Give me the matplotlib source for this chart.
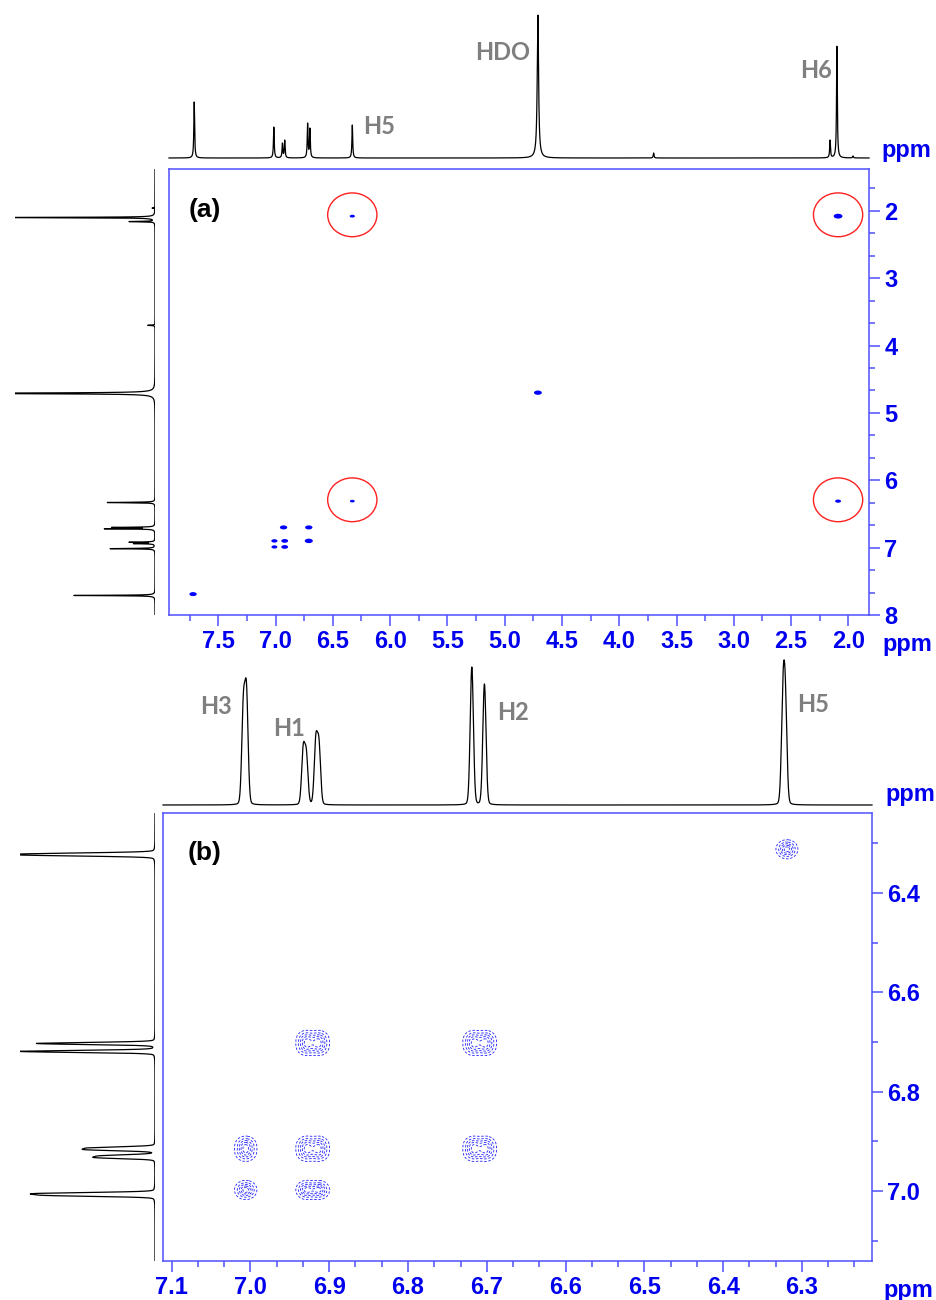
import numpy as np
import matplotlib
matplotlib.use('Agg')
import matplotlib.pyplot as plt
from matplotlib.patches import Ellipse
from matplotlib.ticker import MultipleLocator, FormatStrFormatter

plt.rcParams['font.family'] = ['Liberation Sans Narrow', 'Liberation Sans', 'DejaVu Sans']
plt.rcParams['font.weight'] = 'bold'
plt.rcParams['lines.dashed_pattern'] = [3.0, 2.0]

BLUE = '#0000ee'
BOX = '#5050ff'
GREY = '#7f7f7f'

# ---------------- (a) full 1H spectrum, peaks ----------------
# apparent peak heights (HDO = 143)
a_shift = [7.71, 7.015, 6.94, 6.92, 6.72, 6.70, 6.33, 4.71, 3.70, 2.16, 2.10, 1.96]
a_height = [56, 31, 15, 18, 35, 30, 33, 143, 5, 18, 112, 2]
a_hwhm = [0.004, 0.004, 0.004, 0.004, 0.004, 0.004, 0.004, 0.007, 0.004, 0.004, 0.004, 0.004]

# (a) cross peaks: F2 (x), F1 (y), relative size
a_cross_x = [6.33, 2.09, 4.71, 6.33, 2.09, 6.93, 6.71, 7.01, 6.92, 6.71, 7.01, 6.92, 7.72]
a_cross_y = [2.08, 2.08, 4.70, 6.31, 6.31, 6.70, 6.70, 6.90, 6.90, 6.90, 6.99, 6.99, 7.69]
a_cross_int = [0.35, 1.0, 0.8, 0.3, 0.45, 0.7, 0.7, 0.5, 0.6, 0.85, 0.45, 0.6, 0.7]
a_circled = [0, 1, 3, 4]

# ---------------- (b) aromatic region ----------------
b_shift = [7.009, 7.005, 6.933, 6.929, 6.917, 6.913, 6.719, 6.703, 6.324, 6.321]
b_height = [112, 122, 61, 56, 71, 67, 138, 121, 130, 127]

# multiplets in the 2D map
mult_names = ['H3', 'H1', 'H2', 'H5']
mult_f2 = [7.006, 6.921, 6.709, 6.319]
mult_f1 = [6.998, 6.915, 6.702, 6.312]
mult_split = [0.004, 0.016, 0.016, 0.003]
b_cross = [('H5', 'H5'), ('H1', 'H2'), ('H2', 'H2'), ('H3', 'H1'),
           ('H1', 'H1'), ('H2', 'H1'), ('H3', 'H3'), ('H1', 'H3')]


def lorentz(d, w):
    return 1.0 / (1.0 + (d / w) ** 2)


def voigt(d, w, eta=0.1):
    return eta * lorentz(d, w) + (1 - eta) * np.exp(-np.log(2) * (d / w) ** 2)


def spectrum(grid, shift, height, hwhm, shape):
    # solve for component amplitudes so the summed trace hits the read heights
    s = np.array(shift)
    w = np.array(hwhm)
    A = shape(s[:, None] - s[None, :], w[None, :])
    amp = np.linalg.solve(A, np.array(height, float))
    return sum(a * shape(grid - c, wi) for a, c, wi in zip(amp, s, w))


def add_ax(l, t, r, b):
    return fig.add_axes([l / 936, 1 - b / 1300, (r - l) / 936, (b - t) / 1300])


def style_box(ax):
    for sp in ax.spines.values():
        sp.set_color(BOX)
        sp.set_linewidth(1.1)
    ax.yaxis.tick_right()
    ax.tick_params(which='both', direction='out', color=BOX, labelcolor=BLUE,
                   labelsize=17, width=1.1)
    ax.tick_params(which='major', length=8, pad=3)
    ax.tick_params(which='minor', length=4)
    ax.tick_params(axis='x', which='both', top=False)
    ax.tick_params(axis='y', which='both', left=False)


fig = plt.figure(figsize=(9.36, 13), dpi=100)

# ---- panel (a) ----
ax_a = add_ax(169, 169, 869, 615)
a_xlim = (7.93, 1.82)
a_ylim = (8.0, 1.38)
ax_a.set_xlim(a_xlim)
ax_a.set_ylim(a_ylim)
style_box(ax_a)
ax_a.xaxis.set_major_locator(MultipleLocator(0.5))
ax_a.xaxis.set_minor_locator(MultipleLocator(0.25))
ax_a.xaxis.set_major_formatter(FormatStrFormatter('%.1f'))
ax_a.yaxis.set_major_locator(MultipleLocator(1))
ax_a.yaxis.set_minor_locator(MultipleLocator(1 / 3))
ax_a.yaxis.set_major_formatter(FormatStrFormatter('%d'))

# elliptical dots for the cross peaks
t = np.linspace(0, 2 * np.pi, 40)
dot = np.column_stack([np.cos(t), 0.55 * np.sin(t)])
ax_a.scatter(a_cross_x, a_cross_y, s=np.array(a_cross_int) * 40, marker=dot,
             color='#0000ff', linewidths=0, zorder=3)
for i in a_circled:
    ax_a.add_patch(Ellipse((a_cross_x[i], a_cross_y[i] - 0.02), 0.43, 0.65,
                           fill=False, edgecolor='#ff2020', lw=1.0))
ax_a.text(0.051, 0.908, '(a)', transform=ax_a.transAxes, fontsize=19,
          ha='center', va='center', family=['Liberation Sans', 'DejaVu Sans'])

grid_a = np.linspace(a_xlim[0], a_xlim[1], 14000)
spec_a = spectrum(grid_a, a_shift, a_height, a_hwhm, lorentz)

top_a = add_ax(169, 15, 869, 158)
top_a.plot(grid_a, spec_a, color='black', lw=0.9, clip_on=False)
top_a.set_xlim(a_xlim)
top_a.set_ylim(0, 143)
top_a.axis('off')
for lab, x, y in [('HDO', 5.02, 106), ('H5', 6.10, 31), ('H6', 2.28, 88)]:
    top_a.text(x, y, lab, color=GREY, fontsize=17, ha='center', va='center',
               family=['Lato', 'DejaVu Sans'])

left_a = add_ax(15, 169, 155, 615)
grid_al = np.linspace(a_ylim[1], a_ylim[0], 14000)
left_a.plot(spectrum(grid_al, a_shift, a_height, a_hwhm, lorentz) * 1.45, grid_al,
            color='black', lw=0.9)
left_a.set_xlim(140, 0)
left_a.set_ylim(a_ylim)
left_a.axis('off')

fig.text(906 / 936, 1 - 150 / 1300, 'ppm', color=BLUE, fontsize=17, ha='center', va='center')
fig.text(907 / 936, 1 - 645 / 1300, 'ppm', color=BLUE, fontsize=17, ha='center', va='center')

# ---- panel (b) ----
ax_b = add_ax(163, 813, 872, 1261)
b_xlim = (7.111, 6.211)
b_ylim = (7.141, 6.239)
ax_b.set_xlim(b_xlim)
ax_b.set_ylim(b_ylim)
style_box(ax_b)
ax_b.xaxis.set_major_locator(MultipleLocator(0.1))
ax_b.xaxis.set_minor_locator(MultipleLocator(0.1 / 3))
ax_b.xaxis.set_major_formatter(FormatStrFormatter('%.1f'))
ax_b.yaxis.set_major_locator(MultipleLocator(0.2))
ax_b.yaxis.set_minor_locator(MultipleLocator(0.1))
ax_b.yaxis.set_major_formatter(FormatStrFormatter('%.1f'))

gx = np.linspace(b_xlim[1], b_xlim[0], 1400)
gy = np.linspace(b_ylim[1], b_ylim[0], 1000)
X, Y = np.meshgrid(gx, gy)
sx, sy = 0.0066, 0.0092
Z = np.zeros_like(X)
for f2_name, f1_name in b_cross:
    i = mult_names.index(f2_name)
    j = mult_names.index(f1_name)
    field = np.zeros_like(X)
    for dx in (-0.5, 0.5):
        for dy in (-0.5, 0.5):
            cx = mult_f2[i] + dx * mult_split[i]
            cy = mult_f1[j] + dy * mult_split[j]
            field += np.exp(-((X - cx) ** 2 / (2 * sx ** 2) + (Y - cy) ** 2 / (2 * sy ** 2)))
    Z += field / field.max()
ax_b.contour(X, Y, Z, levels=[0.12, 0.3, 0.5, 0.7, 0.88],
             colors='#2020ff', linewidths=0.6, linestyles='dashed')
ax_b.text(0.058, 0.911, '(b)', transform=ax_b.transAxes, fontsize=19,
          ha='center', va='center', family=['Liberation Sans', 'DejaVu Sans'])

b_hwhm = [0.0024] * len(b_shift)
grid_b = np.linspace(b_xlim[0], b_xlim[1], 12000)
spec_b = spectrum(grid_b, b_shift, b_height, b_hwhm, voigt)

top_b = add_ax(163, 667, 872, 805)
top_b.plot(grid_b, spec_b, color='black', lw=0.9, clip_on=False)
top_b.set_xlim(b_xlim)
top_b.set_ylim(0, 138)
top_b.axis('off')
for lab, x, y in [('H3', 7.044, 98), ('H1', 6.951, 77), ('H2', 6.666, 92), ('H5', 6.286, 100)]:
    top_b.text(x, y, lab, color=GREY, fontsize=17, ha='center', va='center',
               family=['Lato', 'DejaVu Sans'])

left_b = add_ax(20, 813, 155, 1261)
grid_bl = np.linspace(b_ylim[1], b_ylim[0], 12000)
left_b.plot(spectrum(grid_bl, b_shift, b_height, b_hwhm, voigt) * 0.98, grid_bl,
            color='black', lw=0.9)
left_b.set_xlim(135, 0)
left_b.set_ylim(b_ylim)
left_b.axis('off')

fig.text(910 / 936, 1 - 795 / 1300, 'ppm', color=BLUE, fontsize=17, ha='center', va='center')
fig.text(908 / 936, 1 - 1290 / 1300, 'ppm', color=BLUE, fontsize=17, ha='center', va='center')

fig.savefig('out.png', dpi=100)
